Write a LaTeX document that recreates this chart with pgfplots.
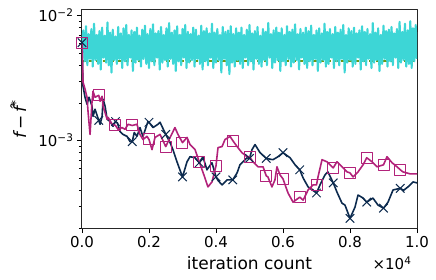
\documentclass[border=0pt]{standalone}
\usepackage{fontspec}
\setmainfont{DejaVu Sans}
\usepackage{pgfplots}
\pgfplotsset{compat=1.18}
\definecolor{cyanc}{RGB}{61,214,214}
\definecolor{magc}{RGB}{178,34,122}
\definecolor{navc}{RGB}{12,42,78}
\definecolor{grnc}{RGB}{110,150,20}
\begin{document}
\begin{tikzpicture}
\path[use as bounding box] (-82pt,-52pt) rectangle (354pt,228pt);
\begin{axis}[
  at={(0pt,0pt)}, anchor=south west,
  scale only axis, width=335pt, height=218pt,
  xmin=0, xmax=10000, ymode=log, ymin=2.0e-4, ymax=1.106e-2,
  xtick={0,2000,4000,6000,8000,10000},
  xticklabels={0.0,0.2,0.4,0.6,0.8,1.0},
  scaled x ticks=false,
  ytick={1e-3,1e-2},
  yticklabels={10\textsuperscript{−3},10\textsuperscript{−2}},
  minor ytick={2e-4,3e-4,4e-4,5e-4,6e-4,7e-4,8e-4,9e-4,2e-3,3e-3,4e-3,5e-3,6e-3,7e-3,8e-3,9e-3},
  tick align=outside, xtick pos=bottom, ytick pos=left,
  major tick length=5pt, minor tick length=3pt,
  tick style={black, line width=0.9pt},
  minor tick style={line width=0.7pt},
  axis line style={line width=1pt, black!85},
  ticklabel style={font=\fontsize{15}{18}\selectfont},
  label style={font=\fontsize{17}{20}\selectfont},
  xlabel={iteration count},
  xlabel style={at={(axis description cs:0.5,0)}, anchor=center, yshift=-35pt},
  ylabel={{\itshape f}\,−\,{\itshape \^{f}}\textsuperscript{*}},
  ylabel style={at={(axis description cs:-0.19,0.5)}, anchor=center},
  clip mode=individual,
  line join=round,
]
\addplot[grnc, line width=1.2pt, dash pattern=on 4pt off 3pt] coordinates {(0,4.33e-3) (10000,4.33e-3)};
\addplot[cyanc, line width=2.1pt] coordinates {
(0,6.0e-3)
(40,7.6e-3)(80,4.3e-3)(120,8.2e-3)(160,4.0e-3)(200,7.1e-3)(240,4.5e-3)(280,7.8e-3)(320,3.9e-3)(360,8.6e-3)(400,4.4e-3)
(440,7.0e-3)(480,4.1e-3)(520,7.5e-3)(560,3.7e-3)(600,8.0e-3)(640,4.6e-3)(680,6.9e-3)(720,4.2e-3)(760,8.8e-3)(800,4.0e-3)
(840,7.3e-3)(880,3.5e-3)(920,7.7e-3)(960,4.4e-3)(1000,6.8e-3)(1040,4.1e-3)(1080,8.1e-3)(1120,4.5e-3)(1160,7.2e-3)(1200,3.8e-3)
(1240,7.9e-3)(1280,4.3e-3)(1320,8.4e-3)(1360,4.0e-3)(1400,7.0e-3)(1440,4.6e-3)(1480,7.6e-3)(1520,3.6e-3)(1560,7.4e-3)(1600,4.2e-3)
(1640,8.0e-3)(1680,4.4e-3)(1720,6.9e-3)(1760,3.9e-3)(1800,7.7e-3)(1840,4.5e-3)(1880,8.3e-3)(1920,4.1e-3)(1960,7.1e-3)(2000,3.8e-3)
(2040,7.8e-3)(2080,4.3e-3)(2120,8.5e-3)(2160,4.0e-3)(2200,7.2e-3)(2240,4.6e-3)(2280,7.5e-3)(2320,3.7e-3)(2360,8.1e-3)(2400,4.2e-3)
(2440,7.0e-3)(2480,4.4e-3)(2520,7.9e-3)(2560,3.9e-3)(2600,8.7e-3)(2640,4.5e-3)(2680,7.3e-3)(2720,4.1e-3)(2760,7.6e-3)(2800,3.6e-3)
(2840,8.2e-3)(2880,4.3e-3)(2920,7.0e-3)(2960,4.0e-3)(3000,7.8e-3)(3040,4.6e-3)(3080,8.4e-3)(3120,3.8e-3)(3160,7.4e-3)(3200,4.2e-3)
(3240,7.1e-3)(3280,4.4e-3)(3320,8.0e-3)(3360,3.9e-3)(3400,7.7e-3)(3440,4.5e-3)(3480,6.9e-3)(3520,4.1e-3)(3560,8.3e-3)(3600,3.7e-3)
(3640,7.5e-3)(3680,4.3e-3)(3720,7.9e-3)(3760,4.0e-3)(3800,7.2e-3)(3840,4.6e-3)(3880,8.6e-3)(3920,3.8e-3)(3960,7.3e-3)(4000,4.2e-3)
(4040,7.8e-3)(4080,4.4e-3)(4120,7.0e-3)(4160,3.5e-3)(4200,8.1e-3)(4240,4.5e-3)(4280,7.4e-3)(4320,4.0e-3)(4360,7.6e-3)(4400,3.4e-3)
(4440,8.2e-3)(4480,4.2e-3)(4520,7.1e-3)(4560,3.9e-3)(4600,7.9e-3)(4640,4.4e-3)(4680,7.3e-3)(4720,4.1e-3)(4760,8.0e-3)(4800,3.8e-3)
(4840,7.0e-3)(4880,4.6e-3)(4920,7.7e-3)(4960,4.0e-3)(5000,8.4e-3)(5040,4.3e-3)(5080,7.2e-3)(5120,3.7e-3)(5160,7.5e-3)(5200,4.5e-3)
(5240,8.1e-3)(5280,4.1e-3)(5320,6.9e-3)(5360,3.9e-3)(5400,7.8e-3)(5440,4.4e-3)(5480,7.4e-3)(5520,4.0e-3)(5560,8.7e-3)(5600,4.6e-3)
(5640,7.1e-3)(5680,3.8e-3)(5720,7.6e-3)(5760,4.2e-3)(5800,8.0e-3)(5840,4.4e-3)(5880,7.3e-3)(5920,3.6e-3)(5960,7.9e-3)(6000,4.3e-3)
(6040,7.0e-3)(6080,4.0e-3)(6120,8.2e-3)(6160,4.5e-3)(6200,7.4e-3)(6240,3.9e-3)(6280,7.7e-3)(6320,4.2e-3)(6360,8.5e-3)(6400,4.4e-3)
(6440,7.1e-3)(6480,3.7e-3)(6520,7.8e-3)(6560,4.6e-3)(6600,7.3e-3)(6640,4.1e-3)(6680,8.0e-3)(6720,3.8e-3)(6760,7.5e-3)(6800,4.3e-3)
(6840,8.3e-3)(6880,4.0e-3)(6920,7.0e-3)(6960,4.5e-3)(7000,7.6e-3)(7040,3.6e-3)(7080,7.9e-3)(7120,4.2e-3)(7160,7.2e-3)(7200,4.4e-3)
(7240,8.6e-3)(7280,3.9e-3)(7320,7.4e-3)(7360,4.1e-3)(7400,7.8e-3)(7440,4.6e-3)(7480,7.1e-3)(7520,3.8e-3)(7560,8.1e-3)(7600,4.3e-3)
(7640,7.3e-3)(7680,4.0e-3)(7720,7.7e-3)(7760,4.5e-3)(7800,8.4e-3)(7840,3.5e-3)(7880,7.0e-3)(7920,4.2e-3)(7960,7.9e-3)(8000,4.4e-3)
(8040,7.5e-3)(8080,3.9e-3)(8120,8.0e-3)(8160,4.1e-3)(8200,7.2e-3)(8240,4.6e-3)(8280,7.6e-3)(8320,3.7e-3)(8360,8.2e-3)(8400,4.3e-3)
(8440,7.4e-3)(8480,4.0e-3)(8520,7.8e-3)(8560,4.5e-3)(8600,7.1e-3)(8640,3.8e-3)(8680,8.7e-3)(8720,4.2e-3)(8760,7.3e-3)(8800,4.4e-3)
(8840,7.9e-3)(8880,3.6e-3)(8920,7.0e-3)(8960,4.1e-3)(9000,8.3e-3)(9040,4.5e-3)(9080,7.5e-3)(9120,3.9e-3)(9160,7.7e-3)(9200,4.3e-3)
(9240,8.1e-3)(9280,4.0e-3)(9320,7.2e-3)(9360,4.6e-3)(9400,7.8e-3)(9440,3.8e-3)(9480,8.9e-3)(9520,4.2e-3)(9560,7.4e-3)(9600,4.4e-3)
(9640,8.6e-3)(9680,3.9e-3)(9720,7.6e-3)(9760,4.1e-3)(9800,9.0e-3)(9840,3.8e-3)(9880,7.9e-3)(9920,4.3e-3)(9960,8.4e-3)(10000,4.5e-3)
};
% navy series (x markers)
\addplot[navc, line width=1.6pt] coordinates {
(0,6.06e-3)(30,2.73e-3)(90,2.22e-3)(150,1.95e-3)(210,2.22e-3)(300,1.88e-3)(330,1.56e-3)(390,1.78e-3)
(500,1.45e-3)(540,1.35e-3)(600,1.56e-3)(630,2.14e-3)(690,1.88e-3)(750,1.48e-3)(840,1.42e-3)(925,1.30e-3)
(1000,1.42e-3)(1060,1.38e-3)(1135,1.18e-3)(1225,1.12e-3)(1345,1.08e-3)(1435,0.98e-3)(1500,0.98e-3)(1560,1.16e-3)
(1640,1.08e-3)(1730,1.27e-3)(1820,1.08e-3)(1970,1.42e-3)(2000,1.40e-3)(2120,1.27e-3)(2270,1.35e-3)(2330,1.40e-3)
(2500,1.12e-3)(2630,0.963e-3)(2715,0.846e-3)(2835,0.677e-3)(3000,0.512e-3)(3135,0.677e-3)(3225,0.743e-3)(3375,0.729e-3)
(3500,0.665e-3)(3610,0.743e-3)(3730,0.584e-3)(3880,0.665e-3)(4000,0.512e-3)(4060,0.48e-3)(4180,0.442e-3)(4330,0.485e-3)
(4500,0.485e-3)(4630,0.552e-3)(4715,0.640e-3)(4925,0.729e-3)(5000,0.72e-3)(5075,0.846e-3)(5165,0.929e-3)(5315,0.800e-3)
(5500,0.72e-3)(5700,0.703e-3)(5850,0.743e-3)(6000,0.80e-3)(6210,0.729e-3)(6360,0.640e-3)(6500,0.584e-3)(6600,0.503e-3)
(6750,0.426e-3)(7000,0.381e-3)(7105,0.442e-3)(7255,0.532e-3)(7340,0.562e-3)(7500,0.459e-3)(7610,0.388e-3)(7760,0.316e-3)
(7850,0.305e-3)(8000,0.239e-3)(8150,0.294e-3)(8240,0.367e-3)(8390,0.347e-3)(8500,0.322e-3)(8685,0.347e-3)(8835,0.305e-3)
(9000,0.288e-3)(9135,0.322e-3)(9285,0.403e-3)(9500,0.415e-3)(9600,0.40e-3)(9730,0.426e-3)(9880,0.467e-3)(10000,0.459e-3)
};
% magenta series (square markers)
\addplot[magc, line width=1.6pt] coordinates {
(0,6.06e-3)(30,2.94e-3)(90,2.58e-3)(150,2.22e-3)(180,1.71e-3)(240,1.12e-3)(300,2.06e-3)(330,2.48e-3)(390,2.22e-3)
(500,2.30e-3)(540,2.06e-3)(600,2.26e-3)(630,1.88e-3)(750,1.48e-3)(780,1.53e-3)(900,1.35e-3)(1000,1.32e-3)(1075,1.23e-3)
(1195,1.27e-3)(1285,1.23e-3)(1375,1.35e-3)(1500,1.32e-3)(1640,1.35e-3)(1730,1.12e-3)(1820,1.02e-3)(1940,1.08e-3)
(2000,1.02e-3)(2090,0.846e-3)(2180,1.06e-3)(2330,1.12e-3)(2500,0.895e-3)(2630,1.06e-3)(2775,1.27e-3)(2865,1.12e-3)
(3000,0.963e-3)(3135,1.06e-3)(3225,0.929e-3)(3375,0.846e-3)(3500,0.677e-3)(3670,0.503e-3)(3760,0.426e-3)(3880,0.467e-3)
(4000,0.629e-3)(4060,0.878e-3)(4180,0.895e-3)(4270,1.02e-3)(4420,1.08e-3)(4500,1.00e-3)(4630,0.895e-3)(4775,0.800e-3)
(4925,0.743e-3)(5000,0.743e-3)(5105,0.677e-3)(5255,0.617e-3)(5405,0.617e-3)(5500,0.522e-3)(5550,0.512e-3)(5670,0.426e-3)
(5760,0.485e-3)(5820,0.617e-3)(5910,0.532e-3)(6000,0.494e-3)(6150,0.381e-3)(6300,0.322e-3)(6500,0.353e-3)(6600,0.334e-3)
(6750,0.403e-3)(6895,0.442e-3)(7000,0.442e-3)(7045,0.512e-3)(7165,0.703e-3)(7310,0.677e-3)(7500,0.605e-3)(7610,0.677e-3)
(7760,0.617e-3)(7910,0.562e-3)(8000,0.552e-3)(8090,0.512e-3)(8240,0.562e-3)(8390,0.640e-3)(8500,0.729e-3)(8655,0.677e-3)
(8805,0.617e-3)(9000,0.640e-3)(9105,0.743e-3)(9255,0.665e-3)(9405,0.617e-3)(9500,0.584e-3)(9580,0.562e-3)(9790,0.542e-3)(10000,0.542e-3)
};
\addplot[only marks, mark=x, mark size=6pt, navc, line width=1pt] coordinates {
(0,6.06e-3)(500,1.45e-3)(1000,1.42e-3)(1500,0.98e-3)(2000,1.40e-3)(2500,1.12e-3)(3000,0.512e-3)(3500,0.665e-3)
(4000,0.512e-3)(4500,0.485e-3)(5000,0.72e-3)(5500,0.72e-3)(6000,0.80e-3)(6500,0.584e-3)(7000,0.381e-3)(7500,0.459e-3)
(8000,0.239e-3)(8500,0.322e-3)(9000,0.288e-3)(9500,0.415e-3)
};
\addplot[only marks, mark=square, mark size=5.5pt, magc, line width=1pt] coordinates {
(0,6.06e-3)(500,2.30e-3)(1000,1.32e-3)(1500,1.32e-3)(2000,1.02e-3)(2500,0.895e-3)(3000,0.963e-3)(3500,0.677e-3)
(4000,0.629e-3)(4500,1.00e-3)(5000,0.743e-3)(5500,0.522e-3)(6000,0.494e-3)(6500,0.353e-3)(7000,0.442e-3)(7500,0.605e-3)
(8000,0.552e-3)(8500,0.729e-3)(9000,0.640e-3)(9500,0.584e-3)
};
\node[anchor=east, font=\fontsize{15}{18}\selectfont] at (rel axis cs:1,0) [xshift=-2pt, yshift=-35pt] {×10\textsuperscript{4}};
\end{axis}
\end{tikzpicture}
\end{document}
